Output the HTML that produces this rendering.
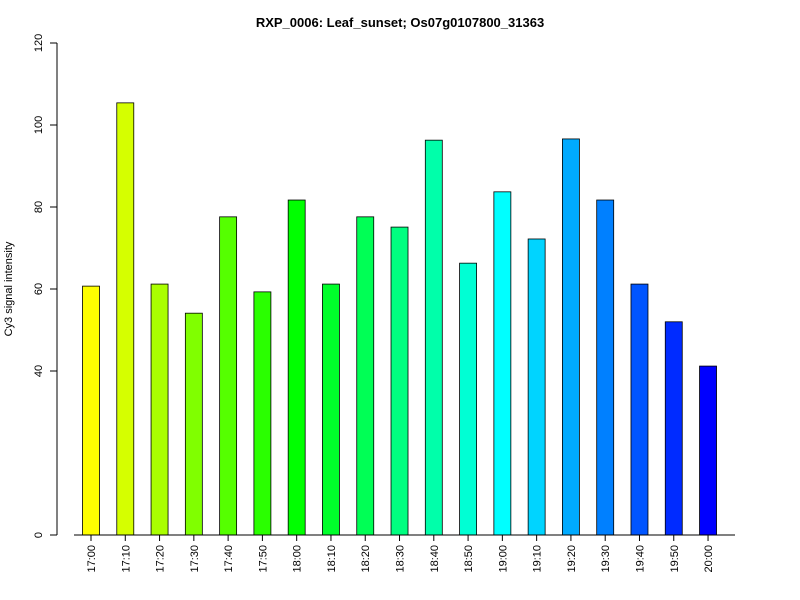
<!DOCTYPE html>
<html><head><meta charset="utf-8"><style>
body{margin:0;background:#fff;}
svg{display:block;font-family:"Liberation Sans",Arial,sans-serif;}
</style></head><body>
<svg id="chart" width="800" height="600">
<text x="400" y="27" text-anchor="middle" font-weight="bold" font-size="13">RXP_0006: Leaf_sunset; Os07g0107800_31363</text>
<text transform="translate(12,289) rotate(-90)" text-anchor="middle" font-size="11">Cy3 signal intensity</text>
<g id="yaxis"></g>
<g id="bars"></g>
<g id="xaxis"></g>
</svg>
<script>
const categories=["17:00","17:10","17:20","17:30","17:40","17:50","18:00","18:10","18:20","18:30","18:40","18:50","19:00","19:10","19:20","19:30","19:40","19:50","20:00"];
const values=[60.7,105.4,61.2,54.1,77.6,59.3,81.7,61.2,77.6,75.1,96.3,66.3,83.7,72.2,96.6,81.7,61.2,52,41.2];
const yTicks=[0,40,60,80,100,120];
const NS="http://www.w3.org/2000/svg";
const y0=535,yTop=43,yMax=120;
const y=v=>y0-(v/yMax)*(y0-yTop);
const x0=91,step=34.28,bw=17;
const x=i=>x0+i*step;
function mk(t,a,p){const e=document.createElementNS(NS,t);for(const k in a)e.setAttribute(k,a[k]);p.appendChild(e);return e;}
const ya=document.getElementById('yaxis'),bg=document.getElementById('bars'),xa=document.getElementById('xaxis');
const yl=mk('line',{x1:57,x2:57,y1:y(0),y2:y(120),stroke:'#000'},ya);


yTicks.forEach(t=>{
 const l=mk('line',{x1:50,x2:57,y1:y(t),y2:y(t),stroke:'#000'},ya);
 
 
 const tx=mk('text',{transform:`translate(42,${y(t)}) rotate(-90)`,'text-anchor':'middle','font-size':11},ya);
 tx.textContent=t;
 
 
});
const xl=mk('line',{x1:74,x2:735,y1:y0,y2:y0,stroke:'#000'},xa);


categories.forEach((c,i)=>{
 const v=values[i];
 const r=mk('rect',{x:x(i)-bw/2,y:y(v),width:bw,height:y0-y(v),fill:`hsl(${60+10*i},100%,50%)`,stroke:'#000','stroke-width':0.8},bg);
 
 
 const tk=mk('line',{x1:x(i),x2:x(i),y1:y0,y2:y0+6,stroke:'#000'},xa);
 
 
 const tx=mk('text',{transform:`translate(${x(i)+4},545) rotate(-90)`,'text-anchor':'end','font-size':11},xa);
 tx.textContent=c;
 
 
});
</script>
</body></html>
